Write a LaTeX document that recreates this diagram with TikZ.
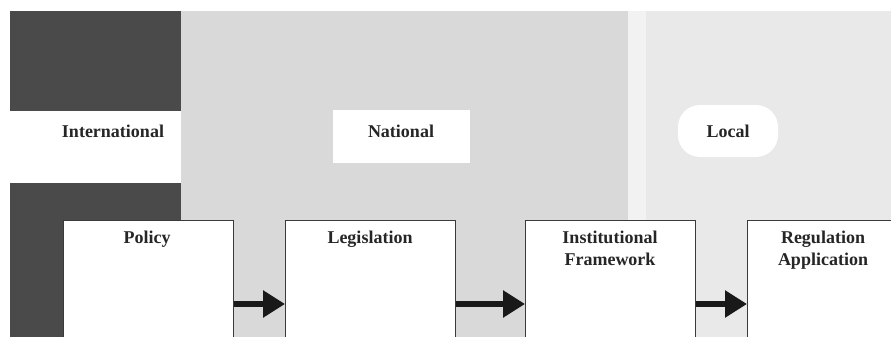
\documentclass[tikz,border=0pt]{standalone}
\usepackage{fontspec}
\setmainfont{Liberation Serif}
\usetikzlibrary{arrows.meta}
\definecolor{darkblk}{HTML}{4A4A4A}
\definecolor{natgray}{HTML}{D9D9D9}
\definecolor{locgray}{HTML}{E9E9E9}
\definecolor{stripgray}{HTML}{F2F2F2}
\definecolor{edge}{HTML}{3A3A3A}
\tikzset{
  stage/.style={draw=edge, line width=0.9pt, fill=white, minimum width=170pt, minimum height=130pt, anchor=north west, inner sep=0pt},
  lbl/.style={font=\fontsize{18}{22}\selectfont\bfseries, text=black!85, align=center, inner sep=0pt},
  flow/.style={line width=6pt, -{Triangle[length=22pt, width=26pt]}, draw=black!90},
}
\begin{document}
\begin{tikzpicture}[x=1pt, y=-1pt]
\useasboundingbox (0,0) rectangle (891,337);
\clip (0,0) rectangle (891,337);
% backgrounds
\fill[white] (0,0) rectangle (891,337);
\fill[natgray] (181,11) rectangle (628,337);
\fill[stripgray] (628,11) rectangle (646,337);
\fill[locgray] (646,11) rectangle (891,337);
\fill[darkblk] (10,11) rectangle (181,111);
\fill[darkblk] (10,183) rectangle (181,337);
% level labels
\node[fill=white, minimum width=137pt, minimum height=53pt, inner sep=0pt] (natbox) at (401,136) {};
\node[fill=white, rounded corners=22pt, minimum width=100pt, minimum height=52pt, inner sep=0pt] (locbox) at (728,131) {};
\node[lbl] (intl) at (113,131) {International};
\node[lbl] (nat) at (401,131) {National};
\node[lbl] (loc) at (728,131) {Local};
% stage boxes
\node[stage] (pol) at (63,220) {};
\node[stage] (leg) at (285,220) {};
\node[stage] (inst) at (525,220) {};
\node[stage] (reg) at (747,220) {};
\node[lbl, anchor=north] (polt) at (147,231) {Policy};
\node[lbl, anchor=north] (legt) at (370,231) {Legislation};
\node[lbl, anchor=north] (instt) at (610,231) {Institutional\\Framework};
\node[lbl, anchor=north] (regt) at (823,231) {Regulation\\Application};
% arrows
\draw[flow] (pol.east |- 0,304) -- (leg.west |- 0,304);
\draw[flow] (leg.east |- 0,304) -- (inst.west |- 0,304);
\draw[flow] (inst.east |- 0,304) -- (reg.west |- 0,304);
\end{tikzpicture}
\end{document}
